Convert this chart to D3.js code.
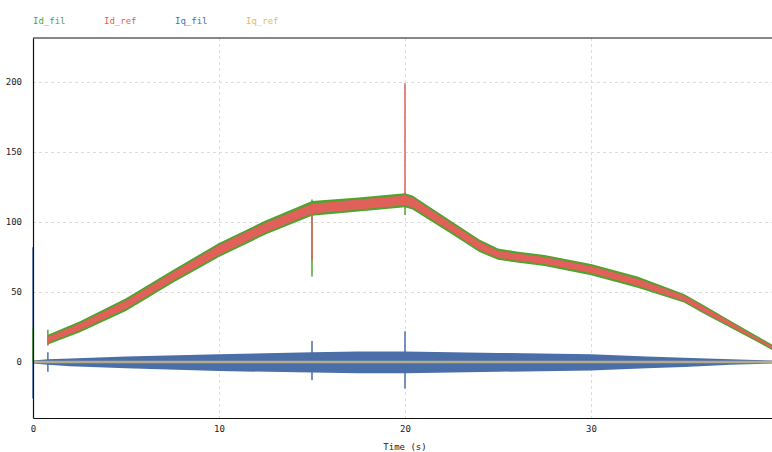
<!DOCTYPE html>
<html>
<head>
<meta charset="utf-8">
<script src="https://cdn.jsdelivr.net/npm/d3@7/dist/d3.min.js"></script>
<style>
  html, body { margin: 0; padding: 0; background: #fff; overflow: hidden; }
  text { font-family: "DejaVu Sans Mono", monospace; }
</style>
</head>
<body>
<svg id="chart" width="800" height="452"></svg>
<script>
// Current traces: envelope of each noisy signal (upper / lower bounds) over time
const seriesNames = ["Id_fil", "Id_ref", "Iq_fil", "Iq_ref"];
const seriesColors = ["#4fa32e", "#e0605a", "#4a6ea8", "#e6b862"];

const idTime     = [0.8, 2.5, 5, 7.5, 10, 12.5, 15, 17.5, 20, 20.4, 22.5, 24, 25, 26, 27.5, 30, 32.5, 35, 36, 37.5, 39, 40];
const idRefUpper = [18, 27.5, 44, 64, 83.5, 99.5, 113, 116, 119, 117.5, 99, 86, 79.5, 77.5, 75, 68.5, 59.5, 47.5, 40, 28.5, 17, 9.5];
const idRefLower = [14, 22.5, 38, 58, 76.5, 92.5, 106, 109, 112, 110.5, 93, 80, 74.5, 72.5, 70, 63.5, 54.5, 43.5, 36, 25.5, 15, 7.5];
const idFilUpper = [19.5, 29, 45.5, 65.5, 85, 101, 115, 117.5, 120.5, 119, 100.5, 87.5, 81, 79, 76.5, 70, 61, 48.5, 41, 29.5, 18, 10.5];
const idFilLower = [12.5, 21, 36.5, 56.5, 75, 91, 104.5, 107.5, 110.5, 109, 91.5, 78.5, 73, 71, 68.5, 62, 53, 42.5, 35, 24.5, 14, 6.5];

const iqTime     = [0, 0.8, 2, 5, 10, 15, 17.5, 20, 25, 30, 33, 35, 37.5, 40];
const iqFilUpper = [1, 2, 2.5, 4, 5.5, 7, 7.5, 7.5, 6.5, 5.5, 4, 3, 2, 1];
const iqFilLower = [-1, -2, -3, -4.5, -6.5, -7.5, -8, -8, -7, -6, -4.5, -3.5, -2, -1];
const iqRefTime  = [0, 40];
const iqRefValue = [0, 0];

// Transient spikes: time, low, high
const idFilSpikeT  = [0, 0.8, 15, 20];
const idFilSpikeLo = [0, 12, 61, 105];
const idFilSpikeHi = [24, 23, 116, 121];
const idRefSpikeT  = [0.8, 15, 20];
const idRefSpikeLo = [12, 73, 112];
const idRefSpikeHi = [18, 112, 199];
const iqFilSpikeT  = [0, 0.8, 15, 20];
const iqFilSpikeLo = [-26, -7, -13, -19];
const iqFilSpikeHi = [82, 7, 15, 22];

const yTicks = [0, 50, 100, 150, 200];
const xTicks = [0, 10, 20, 30, 40];

const svg = d3.select("#chart");
const x = d3.scaleLinear().domain([0, 40]).range([33, 777]);
const y = d3.scaleLinear().domain([-40, 231.4]).range([418, 38]);

// grid
const grid = svg.append("g");
grid.selectAll("line.h").data(yTicks.filter(d => d !== 0)).join("line")
  .attr("x1", x(0)).attr("x2", x(40))
  .attr("y1", d => y(d) + 0.5).attr("y2", d => y(d) + 0.5)
  .attr("stroke", "#dcdcdc").attr("stroke-dasharray", "3,3");
grid.selectAll("line.v").data(xTicks.filter(d => d !== 0 && d !== 40)).join("line")
  .attr("x1", d => x(d) + 0.5).attr("x2", d => x(d) + 0.5)
  .attr("y1", y(231.4)).attr("y2", y(-40))
  .attr("stroke", "#dcdcdc").attr("stroke-dasharray", "3,3");

function band(times, lo, hi, color) {
  const pts = times.map((t, i) => ({ t, lo: lo[i], hi: hi[i] }));
  svg.append("path").datum(pts)
    .attr("d", d3.area().x(d => x(d.t)).y0(d => y(d.lo)).y1(d => y(d.hi)))
    .attr("fill", color);
}
function spikes(times, lo, hi, color, w) {
  svg.append("g").selectAll("line").data(times.map((t, i) => ({ t, lo: lo[i], hi: hi[i] })))
    .join("line")
    .attr("x1", d => x(d.t)).attr("x2", d => x(d.t))
    .attr("y1", d => y(d.lo)).attr("y2", d => y(d.hi))
    .attr("stroke", color).attr("stroke-width", w);
}

// Iq_fil
band(iqTime, iqFilLower, iqFilUpper, seriesColors[2]);
spikes(iqFilSpikeT, iqFilSpikeLo, iqFilSpikeHi, seriesColors[2], 1.5);
// Id_fil and Id_ref
band(idTime, idFilLower, idFilUpper, seriesColors[0]);
spikes(idFilSpikeT, idFilSpikeLo, idFilSpikeHi, seriesColors[0], 1.5);
band(idTime, idRefLower, idRefUpper, seriesColors[1]);
spikes(idRefSpikeT, idRefSpikeLo, idRefSpikeHi, seriesColors[1], 1.5);
// Iq_ref
svg.append("path").datum(iqRefTime.map((t, i) => ({ t, v: iqRefValue[i] })))
  .attr("d", d3.line().x(d => x(d.t)).y(d => y(d.v)))
  .attr("fill", "none").attr("stroke", "#b5ab8a").attr("stroke-width", 2.5);

// axes
const yAxis = svg.append("g").attr("transform", `translate(${x(0)},0)`)
  .call(d3.axisLeft(y).tickValues(yTicks).tickSize(0).tickPadding(11).tickFormat(d3.format("d")));
const xAxis = svg.append("g").attr("transform", `translate(0,${y(-40)})`)
  .call(d3.axisBottom(x).tickValues(xTicks).tickSize(0).tickPadding(8).tickFormat(d3.format("d")));
[yAxis, xAxis].forEach(a => {
  a.select(".domain").attr("stroke", "#111").attr("stroke-width", 1.2);
  a.selectAll("text").attr("font-size", 9).attr("fill", "#222")
    .attr("font-family", "DejaVu Sans Mono, monospace");
});
svg.append("line").attr("x1", x(0)).attr("x2", x(40)).attr("y1", y(231.4)).attr("y2", y(231.4))
  .attr("stroke", "#111").attr("stroke-width", 1.2);

svg.append("text").attr("x", x(20)).attr("y", 450).attr("text-anchor", "middle")
  .attr("font-size", 9).attr("fill", "#222").text("Time (s)");

// legend
svg.append("g").selectAll("text").data(seriesNames).join("text")
  .attr("x", (d, i) => 33 + i * 71).attr("y", 24)
  .attr("font-size", 9).attr("fill", (d, i) => seriesColors[i]).text(d => d);
</script>
</body>
</html>
